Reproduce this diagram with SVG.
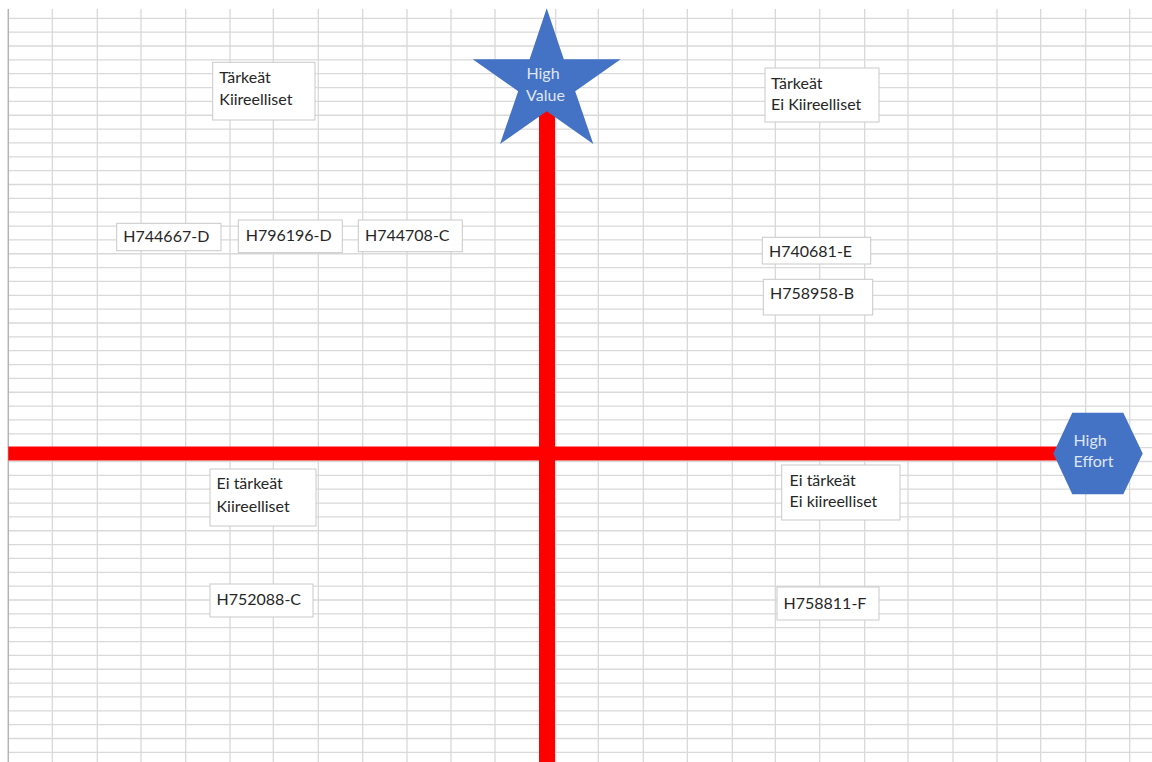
<svg xmlns="http://www.w3.org/2000/svg" width="1152" height="762" viewBox="0 0 1152 762">
<style>
.grid{stroke:#d9d9d9;stroke-width:1.3;fill:none}
.border{stroke:#b4b4b4;stroke-width:1.5;fill:none}
.box{fill:#ffffff;stroke:#c9c9c9;stroke-width:1}
.t{font-family:Lato,"Open Sans",sans-serif;font-size:16px;fill:#262626}
.shape{fill:#4472C4}
.st{font-family:Lato,"Open Sans",sans-serif;font-size:16px;fill:#dfe6f3}
.axis{stroke:#ff0000;fill:none}
</style>
<rect x="0" y="0" width="1152" height="762" fill="#ffffff"/>
<g id="grid">
<path class="grid" d="M8.3 18.3H1152M8.3 32.15H1152M8.3 46H1152M8.3 59.85H1152M8.3 73.7H1152M8.3 87.55H1152M8.3 101.4H1152M8.3 115.25H1152M8.3 129.1H1152M8.3 142.95H1152M8.3 156.8H1152M8.3 170.65H1152M8.3 184.5H1152M8.3 198.35H1152M8.3 212.2H1152M8.3 226.05H1152M8.3 239.9H1152M8.3 253.75H1152M8.3 267.6H1152M8.3 281.45H1152M8.3 295.3H1152M8.3 309.15H1152M8.3 323H1152M8.3 336.85H1152M8.3 350.7H1152M8.3 364.55H1152M8.3 378.4H1152M8.3 392.25H1152M8.3 406.1H1152M8.3 419.95H1152M8.3 433.8H1152M8.3 447.65H1152M8.3 461.5H1152M8.3 475.35H1152M8.3 489.2H1152M8.3 503.05H1152M8.3 516.9H1152M8.3 530.75H1152M8.3 544.6H1152M8.3 558.45H1152M8.3 572.3H1152M8.3 586.15H1152M8.3 600H1152M8.3 613.85H1152M8.3 627.7H1152M8.3 641.55H1152M8.3 655.4H1152M8.3 669.25H1152M8.3 683.1H1152M8.3 696.95H1152M8.3 710.8H1152M8.3 724.65H1152M8.3 738.5H1152M8.3 752.35H1152"/>
<path class="grid" d="M52.3 9V762M97.3 9V762M141 9V762M185.7 9V762M230 9V762M273.3 9V762M318.3 9V762M362.7 9V762M407 9V762M451 9V762M495 9V762M555.7 9V762M598.3 9V762M643.3 9V762M687.3 9V762M732.3 9V762M775.3 9V762M819.7 9V762M864.7 9V762M908 9V762M953 9V762M997 9V762M1040.7 9V762M1085.7 9V762M1129.7 9V762"/>
<path class="border" d="M8.3 9V762"/>
</g>
<g id="connectors">
<path class="axis" stroke-width="14" d="M8.3 453.5H1062"/>
<path class="axis" stroke-width="16" d="M547 105V762"/>
</g>
<g id="high-value">
<polygon class="shape" points="546.7,8.3 563.8,59.3 620.7,59.3 575.2,91.2 593.3,144 546.7,111.3 500,144 518.2,91.2 472.7,59.3 529.6,59.3"/>
<text class="st" x="543" y="78.5" text-anchor="middle">High</text>
<text class="st" x="545.5" y="101" text-anchor="middle">Value</text>
</g>
<g id="high-effort">
<polygon class="shape" points="1072.3,412.7 1123.3,412.7 1142.7,453.5 1123.3,494.3 1072.3,494.3 1053.3,453.5"/>
<text class="st" x="1073.5" y="446">High</text>
<text class="st" x="1073.5" y="467">Effort</text>
</g>
<g id="q1-label">
<rect class="box" x="212.7" y="62.3" width="102.3" height="57.7"/>
<text class="t" x="219.3" y="83.3">Tärkeät</text>
<text class="t" x="219.3" y="105">Kiireelliset</text>
</g>
<g id="q2-label">
<rect class="box" x="765" y="68" width="114" height="54"/>
<text class="t" x="771" y="88.5">Tärkeät</text>
<text class="t" x="771" y="110">Ei Kiireelliset</text>
</g>
<g id="q3-label">
<rect class="box" x="210" y="469" width="106" height="57"/>
<text class="t" x="216.5" y="489">Ei tärkeät</text>
<text class="t" x="216.5" y="512">Kiireelliset</text>
</g>
<g id="q4-label">
<rect class="box" x="781.7" y="465" width="118.3" height="55"/>
<text class="t" x="789.5" y="485.5">Ei tärkeät</text>
<text class="t" x="789.5" y="507">Ei kiireelliset</text>
</g>
<g id="H744667-D">
<rect class="box" x="116.7" y="223.3" width="104.3" height="27.4"/>
<text class="t" x="123.3" y="242.3">H744667-D</text>
</g>
<g id="H796196-D">
<rect class="box" x="238.3" y="220" width="104" height="32.7"/>
<text class="t" x="245.7" y="240.5">H796196-D</text>
</g>
<g id="H744708-C">
<rect class="box" x="358.3" y="220" width="104" height="31.7"/>
<text class="t" x="365" y="240.5">H744708-C</text>
</g>
<g id="H740681-E">
<rect class="box" x="762.3" y="237.3" width="108.4" height="26.7"/>
<text class="t" x="769" y="257.3">H740681-E</text>
</g>
<g id="H758958-B">
<rect class="box" x="763.3" y="279.3" width="109.4" height="35.7"/>
<text class="t" x="770" y="299">H758958-B</text>
</g>
<g id="H752088-C">
<rect class="box" x="210" y="584" width="103" height="33"/>
<text class="t" x="216.5" y="605">H752088-C</text>
</g>
<g id="H758811-F">
<rect class="box" x="777" y="587" width="102" height="33"/>
<text class="t" x="783.5" y="608.5">H758811-F</text>
</g>
</svg>
